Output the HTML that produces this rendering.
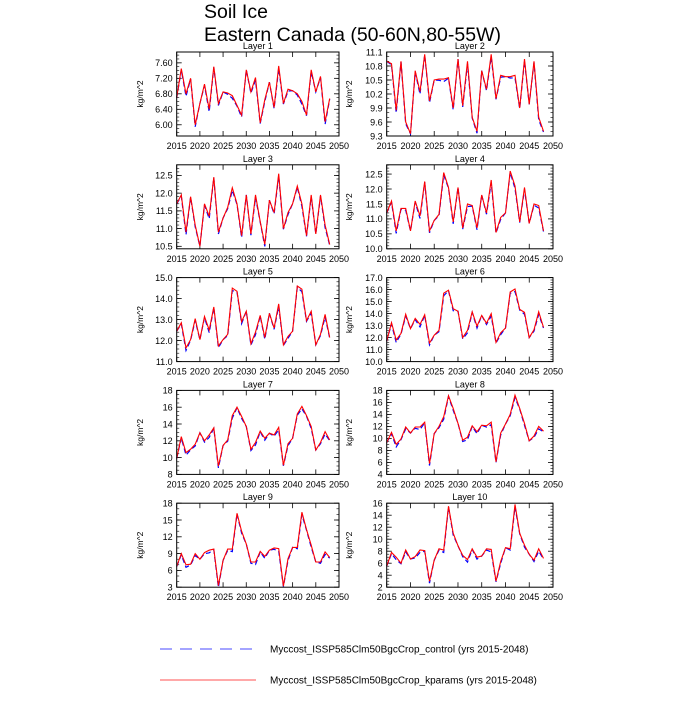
<!DOCTYPE html>
<html><head><meta charset="utf-8"><style>
body{margin:0;background:#fff;width:700px;height:700px;overflow:hidden}
svg text{font-family:"Liberation Sans",sans-serif;fill:#000}
</style></head><body>
<svg id="s" width="700" height="700" xmlns="http://www.w3.org/2000/svg">
<text x="204" y="18" font-size="19.5">Soil Ice</text>
<text x="204" y="41" font-size="19.5">Eastern Canada (50-60N,80-55W)</text>
<line x1="160" y1="649" x2="256" y2="649" stroke="#4a4aff" stroke-width="1" stroke-dasharray="12,8"/>
<text x="270" y="652.5" font-size="10">Myccost_ISSP585Clm50BgcCrop_control (yrs 2015-2048)</text>
<line x1="160" y1="680" x2="256" y2="680" stroke="#ff5050" stroke-width="1"/>
<text x="270" y="683.5" font-size="10">Myccost_ISSP585Clm50BgcCrop_kparams (yrs 2015-2048)</text>
</svg>
<script>
var P=[
{t:"Layer 1",lo:5.71,hi:7.88,ticks:[6,6.4,6.8,7.2,7.6],mn:0.1,fmt:2,d:[6.7,7.45,6.8,7.2,6.0,6.55,7.05,6.4,7.5,6.55,6.85,6.82,6.75,6.5,6.25,7.42,6.85,7.22,6.05,6.65,7.1,6.45,7.52,6.55,6.92,6.88,6.8,6.6,6.25,7.42,6.85,7.25,6.08,6.68]},
{t:"Layer 2",lo:9.3,hi:11.1,ticks:[9.3,9.6,9.9,10.2,10.5,10.8,11.1],mn:0.1,fmt:1,d:[10.9,10.85,9.85,10.9,9.6,9.35,10.7,10.25,11.05,10.05,10.5,10.52,10.52,10.55,9.9,10.95,9.95,10.9,9.7,9.4,10.7,10.3,11.05,10.1,10.6,10.57,10.57,10.6,9.9,10.95,9.98,10.9,9.7,9.4]},
{t:"Layer 3",lo:10.43,hi:12.8,ticks:[10.5,11,11.5,12,12.5],mn:0.1,fmt:1,d:[11.7,11.95,10.9,11.9,11.1,10.5,11.7,11.35,12.45,10.9,11.3,11.6,12.15,11.7,10.8,11.95,10.85,11.95,11.2,10.55,11.8,11.45,12.55,11.0,11.45,11.7,12.2,11.7,10.8,11.95,10.85,11.95,11.1,10.55]},
{t:"Layer 4",lo:10,hi:12.81,ticks:[10,10.5,11,11.5,12,12.5],mn:0.1,fmt:1,d:[11.2,11.6,10.6,11.35,11.35,10.6,11.6,11.1,12.25,10.6,10.95,11.15,12.55,12.05,10.9,12.05,10.7,11.5,11.45,10.7,11.8,11.2,12.3,10.55,11.05,11.2,12.6,12.1,10.9,12.05,10.85,11.5,11.45,10.6]},
{t:"Layer 5",lo:11,hi:15,ticks:[11,12,13,14,15],mn:0.2,fmt:1,d:[12.45,12.85,11.65,12.05,13.05,12.05,13.15,12.5,13.6,11.75,12.05,12.3,14.5,14.35,12.9,13.4,11.85,12.4,13.2,12.15,13.3,12.6,13.75,11.8,12.2,12.45,14.6,14.45,12.95,13.4,11.8,12.3,13.25,12.15]},
{t:"Layer 6",lo:10,hi:17,ticks:[10,11,12,13,14,15,16,17],mn:0.2,fmt:1,d:[11.7,13.25,11.8,12.35,13.95,12.75,13.6,13.1,13.9,11.55,12.2,12.6,15.7,15.95,14.4,14.2,12.0,12.6,14.15,12.95,13.85,13.2,14.0,11.6,12.4,12.8,15.8,16.05,14.35,14.1,12.0,12.65,14.15,12.85]},
{t:"Layer 7",lo:8,hi:18,ticks:[8,10,12,14,16,18],mn:0.5,fmt:0,d:[9.9,12.5,10.6,11.0,11.6,12.95,12.0,12.7,13.55,9.0,11.45,12.1,15.0,16.0,14.9,13.7,11.0,11.8,13.15,12.3,12.9,12.7,13.6,9.1,11.65,12.3,15.2,16.1,15.0,13.7,10.9,11.8,13.1,12.1]},
{t:"Layer 8",lo:4,hi:18,ticks:[4,6,8,10,12,14,16,18],mn:0.5,fmt:0,d:[9.3,11.0,9.0,9.9,11.9,10.9,11.9,11.9,12.7,5.8,10.8,12.0,13.6,17.1,15.0,12.5,9.7,10.2,12.1,11.1,12.2,12.1,12.7,6.1,10.9,12.4,14.0,17.2,15.0,12.5,9.6,10.4,12.0,11.2]},
{t:"Layer 9",lo:3,hi:18,ticks:[3,6,9,12,15,18],mn:1,fmt:0,d:[6.7,9.0,7.0,7.1,9.0,8.0,9.2,9.6,9.8,3.3,7.8,9.8,9.8,16.2,13.0,10.7,7.5,7.5,9.4,8.5,9.6,10.0,9.9,3.2,8.1,10.1,10.1,16.4,13.3,10.5,7.5,7.5,9.3,8.3]},
{t:"Layer 10",lo:2,hi:16,ticks:[2,4,6,8,10,12,14,16],mn:0.5,fmt:0,d:[5.5,7.8,7.0,6.0,8.2,6.7,7.1,8.2,8.1,3.0,6.5,8.4,8.2,15.5,11.0,8.9,7.3,6.6,8.4,7.0,7.2,8.4,8.3,3.0,6.3,8.6,8.4,15.8,11.0,9.0,7.5,6.5,8.4,6.8]}
];
var s=document.getElementById('s'),h='';
P.forEach(function(p,i){
 var col=i%2,row=Math.floor(i/2);
 var x0=col?386.7:176.7,x1=col?553:339,y0=52+row*112.8,y1=y0+84;
 var X=function(yr){return x0+(yr-2015)/35*(x1-x0)};
 var Y=function(v){return y1-(v-p.lo)/(p.hi-p.lo)*(y1-y0)};
 h+='<text x="'+((x0+x1)/2)+'" y="'+(y0-3)+'" font-size="9" text-anchor="middle">'+p.t+'</text>';
 p.ticks.forEach(function(t){var y=Y(t);
  h+='<line x1="'+x0+'" y1="'+y+'" x2="'+(x0+5)+'" y2="'+y+'" stroke="#000" stroke-width="0.8"/>';
  h+='<line x1="'+x1+'" y1="'+y+'" x2="'+(x1-5)+'" y2="'+y+'" stroke="#000" stroke-width="0.8"/>';
  h+='<text x="'+(x0-4)+'" y="'+(y+3.3)+'" font-size="9" text-anchor="end">'+t.toFixed(p.fmt)+'</text>';});
 for(var v=Math.ceil(p.lo/p.mn)*p.mn;v<=p.hi+1e-9;v+=p.mn){var y=Y(v);
  h+='<line x1="'+x0+'" y1="'+y+'" x2="'+(x0+2.5)+'" y2="'+y+'" stroke="#000" stroke-width="0.6"/>';
  h+='<line x1="'+x1+'" y1="'+y+'" x2="'+(x1-2.5)+'" y2="'+y+'" stroke="#000" stroke-width="0.6"/>';}
 for(var yr=2015;yr<=2050;yr+=5){var x=X(yr);
  h+='<line x1="'+x+'" y1="'+y1+'" x2="'+x+'" y2="'+(y1-5)+'" stroke="#000" stroke-width="0.8"/>';
  h+='<line x1="'+x+'" y1="'+y0+'" x2="'+x+'" y2="'+(y0+5)+'" stroke="#000" stroke-width="0.8"/>';
  h+='<text x="'+x+'" y="'+(y1+13)+'" font-size="9" text-anchor="middle">'+yr+'</text>';}
 var lx=col?352:143,ly=(y0+y1)/2;
 h+='<text x="'+lx+'" y="'+ly+'" font-size="8.5" text-anchor="middle" transform="rotate(-90 '+lx+' '+ly+')">kg/m^2</text>';
 var r='',b='',rg=p.hi-p.lo;
 p.d.forEach(function(v,k){var x=X(2015+k);
  var bv=v-rg*0.03*((k*7)%5)/4;
  r+=(k?'L':'M')+x.toFixed(1)+' '+Y(v).toFixed(1);
  b+=(k?'L':'M')+x.toFixed(1)+' '+Y(bv).toFixed(1);});
 h+='<path d="'+b+'" fill="none" stroke="#0000ff" stroke-width="1.2" stroke-dasharray="5,3"/>';
 h+='<path d="'+r+'" fill="none" stroke="#ff0000" stroke-width="1.1"/>';
 h+='<rect x="'+x0+'" y="'+y0+'" width="'+(x1-x0)+'" height="'+(y1-y0)+'" fill="none" stroke="#000" stroke-width="1"/>';
});
s.insertAdjacentHTML('beforeend',h);
</script>
</body></html>
